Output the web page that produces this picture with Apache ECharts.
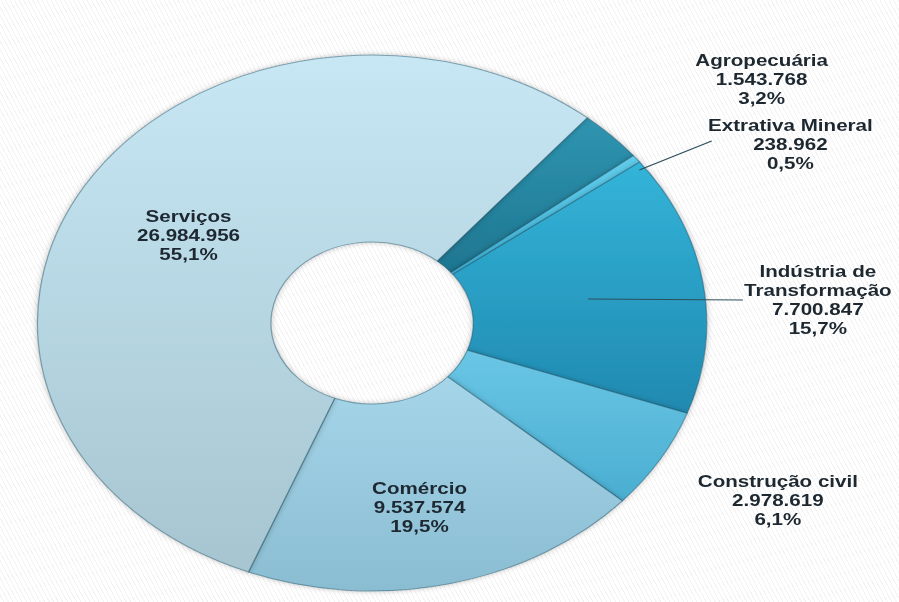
<!DOCTYPE html>
<html><head><meta charset="utf-8">
<script src="https://cdn.jsdelivr.net/npm/echarts@6/dist/echarts.min.js"></script>
<style>
html,body{margin:0;padding:0;width:899px;height:602px;overflow:hidden;
background:#fff repeating-linear-gradient(62deg,#ffffff 0px,#ffffff 3px,#f3f3f3 3px,#f3f3f3 4px);}
#chart{position:absolute;left:0;top:0;width:720px;height:602px;transform-origin:0 0;transform:scaleX(1.24861);}
</style></head><body><div id="chart"></div>
<script>
// data
const categories = ['Agropecuária', 'Extrativa Mineral', 'Indústria de\nTransformação', 'Construção civil', 'Comércio', 'Serviços'];
const values = [1543768, 238962, 7700847, 2978619, 9537574, 26984956];

// styles / positions (kept separate from the data)
const sliceColors = [
  ['#2f95b1', '#1e7690'],
  ['#62cdeb', '#3fb4da'],
  ['#34b4d9', '#2089b0'],
  ['#6ac6e5', '#4aaed1'],
  ['#a5d5e9', '#8bbdd2'],
  ['#c7e7f4', '#a6c5d1']
];
const labelPos = [[610, 79], [633, 144], [655, 300], [623, 500], [336, 507], [151, 235]];
const labelLinePts = [null, [[512, 170], [570, 141]], [[471, 299], [595, 300]], null, null, null];

const total = values.reduce((a, b) => a + b, 0);
function fmtNum(v) { return String(v).replace(/\B(?=(\d{3})+(?!\d))/g, '.'); }
function fmtPct(v) { return (v / total * 100).toFixed(1).replace('.', ',') + '%'; }

const chart = echarts.init(document.getElementById('chart'), null, { renderer: 'svg', width: 720, height: 602 });

const sliceData = categories.map((name, i) => ({
  name: name,
  value: values[i],
  itemStyle: {
    color: new echarts.graphic.LinearGradient(0, 0, 0, 1, [
      { offset: 0, color: sliceColors[i][0] },
      { offset: 1, color: sliceColors[i][1] }
    ])
  }
}));

const labelData = categories.map((name, i) => ({
  name: name,
  value: values[i],
  labelLine: { show: !!labelLinePts[i] }
}));

const common = {
  type: 'pie',
  center: [298, 323],
  radius: [81, 268],
  startAngle: 50,
  clockwise: true,
  avoidLabelOverlap: false
};

chart.setOption({
  backgroundColor: 'transparent',
  animation: false,
  series: [
    Object.assign({}, common, {
      name: 'slices',
      z: 2,
      data: sliceData,
      label: { show: false },
      labelLine: { show: false },
      itemStyle: {
        borderColor: 'rgba(25,75,95,0.45)',
        borderWidth: 1,
        shadowBlur: 5,
        shadowColor: 'rgba(0,0,0,0.25)'
      }
    }),
    Object.assign({}, common, {
      name: 'labels',
      z: 6,
      silent: true,
      data: labelData,
      itemStyle: { color: 'rgba(0,0,0,0)', borderWidth: 0 },
      label: {
        show: true,
        position: 'outside',
        align: 'center',
        fontFamily: 'Liberation Sans, Arial, sans-serif',
        fontWeight: 'bold',
        fontSize: 16.5,
        lineHeight: 19,
        color: '#1d2831',
        formatter: p => p.name + '\n' + fmtNum(values[p.dataIndex]) + '\n' + fmtPct(values[p.dataIndex])
      },
      labelLine: {
        lineStyle: { color: '#2e4f5e', width: 1 }
      },
      labelLayout: function (params) {
        const i = params.dataIndex;
        const o = { x: labelPos[i][0], y: labelPos[i][1], align: 'center', verticalAlign: 'middle' };
        if (labelLinePts[i]) o.labelLinePoints = labelLinePts[i];
        return o;
      }
    })
  ]
});
</script></body></html>
